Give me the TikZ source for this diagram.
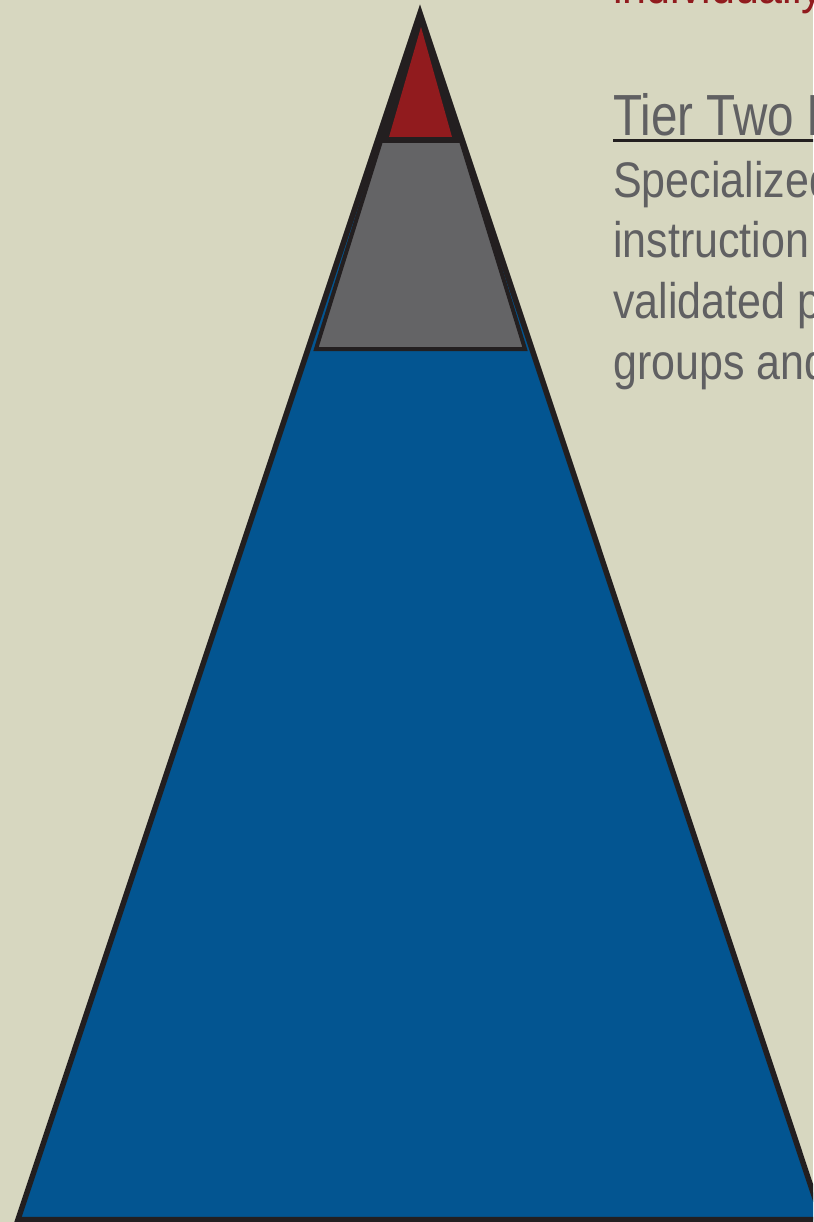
\documentclass[tikz,border=0pt]{standalone}
\usepackage{fontspec}
\usetikzlibrary{positioning}
\newfontfamily\titlefont[FakeStretch=0.82]{Liberation Sans}
\newfontfamily\bodyfont[FakeStretch=0.86]{Liberation Sans}
\definecolor{linen}{RGB}{215,215,192}
\definecolor{tierblue}{RGB}{3,85,145}
\definecolor{tierred}{RGB}{145,27,30}
\definecolor{tiergray}{RGB}{100,100,102}
\definecolor{tierdark}{RGB}{35,31,32}
\definecolor{textgray}{RGB}{96,96,98}
\tikzset{
  edge/.style={draw=tierdark, line width=5.5pt},
  body/.style={inner sep=0pt, anchor=base west, text=textgray, font=\bodyfont\fontsize{50}{60}\selectfont}}

\begin{document}
\begin{tikzpicture}[x=1pt,y=-1pt]
  \path[use as bounding box, clip] (0,0) rectangle (813,1222);
  \fill[linen] (0,0) rectangle (813,1222);
    \coordinate (apex) at (420,13);
    \coordinate (bl) at (18,1219.5);
    \coordinate (br) at (822,1219.5);
        \coordinate (tl) at (376.7,143);
        \coordinate (tr) at (463.3,143);
           \coordinate (gtl) at (381,141);
           \coordinate (gtr) at (461,141);
           \coordinate (gbl) at (316,349);
           \coordinate (gbr) at (525,349);
                \coordinate (rt) at (421,27);
                \coordinate (rl) at (389,137);
                \coordinate (rr) at (452,137);
  % base tier
  \fill [tierblue] (apex) -- (bl) -- (br) -- cycle;
  \fill [tierdark] (apex) -- (tl) -- (tr) -- cycle;
  % tier two
  \draw [fill=tiergray, draw=tierdark, line width=4pt] (gtl) -- (gbl) -- (gbr) -- (gtr) -- cycle;
  % top tier
  \fill [tierred] (rt) -- (rl) -- (rr) -- cycle;
  \draw [edge] (apex) -- (bl) -- (br) -- cycle;
  % texts
     \node (top) [body, text=tierred] at (613,4) {individually};
     \node (title) [body, font=\titlefont\fontsize{58}{60}\selectfont] at (613,136) {Tier Two Intervention};
     \coordinate (ul) at (613,141);
     \draw [tierdark, line width=3pt] (ul) -- ++(240,0);
          \node (l1) [body] at (613,198) {Specialized};
          \node (l2) [body] at (613,258) {instruction};
          \node (l3) [body] at (613,318) {validated programs};
          \node (l4) [body] at (613,379) {groups and};
\end{tikzpicture}
\end{document}
